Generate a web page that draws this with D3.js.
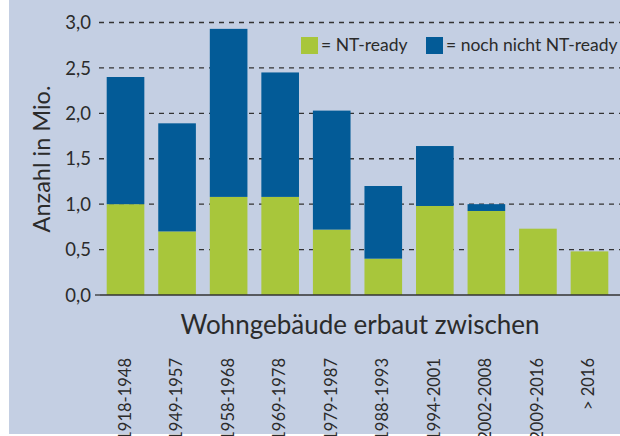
<!DOCTYPE html>
<html lang="de">
<head>
    <meta charset="UTF-8">
    <title>Wohngebäude NT-ready</title>
    <script src="https://d3js.org/d3.v7.min.js"></script>
    <style>
        body { margin: 0; background: #fff; }
        svg text { font-family: Lato, "Noto Sans", sans-serif; fill: #2b2b2b; }
        .tick-label { font-size: 18.5px; }
        .cat-label { font-size: 16.5px; }
        .x-title { font-size: 26px; }
        .y-title { font-size: 23.5px; }
        .legend-text { font-size: 17.5px; }
    </style>
</head>
<body>
    <div id="chart"></div>
    <script>
        // Data (Mio. Wohngebäude)
        const categories = ["1918-1948", "1949-1957", "1958-1968", "1969-1978", "1979-1987",
                            "1988-1993", "1994-2001", "2002-2008", "2009-2016", "> 2016"];
        const ntReady    = [1.00, 0.70, 1.08, 1.08, 0.72, 0.40, 0.98, 0.925, 0.73, 0.48];
        const notReady   = [1.40, 1.19, 1.85, 1.37, 1.31, 0.80, 0.66, 0.075, 0, 0];
        const yTicks     = [0, 0.5, 1, 1.5, 2, 2.5, 3];
        const seriesKeys = ["ready", "notReady"];
        const seriesNames = ["= NT-ready", "= noch nicht NT-ready"];
        const colors = ["#a8c63b", "#035b97"];

        const width = 620, height = 436;
        const svg = d3.select("#chart").append("svg")
            .attr("width", width)
            .attr("height", height);

        // panel background
        svg.append("rect")
            .attr("x", 9).attr("y", 0)
            .attr("width", width - 9).attr("height", 434)
            .attr("fill", "#c4cfe3");

        const x = d3.scaleBand()
            .domain(categories)
            .range([100, 615])
            .paddingInner(0.27)
            .paddingOuter(0.13);

        const y = d3.scaleLinear()
            .domain([0, 3])
            .range([295, 22.5]);

        // gridlines
        svg.append("g")
            .selectAll("line")
            .data(yTicks.filter(d => d > 0))
            .join("line")
            .attr("x1", 99).attr("x2", width)
            .attr("y1", d => y(d)).attr("y2", d => y(d))
            .attr("stroke", "#333")
            .attr("stroke-width", 1.3)
            .attr("stroke-dasharray", "5,5");

        // tick labels
        svg.append("g")
            .selectAll("text")
            .data(yTicks)
            .join("text")
            .attr("class", "tick-label")
            .attr("x", 91)
            .attr("y", d => y(d))
            .attr("dy", "0.36em")
            .attr("text-anchor", "end")
            .text(d => d3.format(".1f")(d).replace(".", ","));

        // small tick at zero
        svg.append("line")
            .attr("x1", 95).attr("x2", 100)
            .attr("y1", y(0)).attr("y2", y(0))
            .attr("stroke", "#333").attr("stroke-width", 1.3);

        // stacked bars
        const table = categories.map((c, i) => ({ cat: c, ready: ntReady[i], notReady: notReady[i] }));
        const stacked = d3.stack().keys(seriesKeys)(table);

        svg.append("g")
            .selectAll("g")
            .data(stacked)
            .join("g")
            .attr("fill", (d, i) => colors[i])
            .selectAll("rect")
            .data(d => d.filter(p => p[1] - p[0] > 0))
            .join("rect")
            .attr("x", d => x(d.data.cat))
            .attr("width", x.bandwidth())
            .attr("y", d => y(d[1]))
            .attr("height", d => y(d[0]) - y(d[1]));

        // baseline
        svg.append("line")
            .attr("x1", 100).attr("x2", width)
            .attr("y1", y(0)).attr("y2", y(0))
            .attr("stroke", "#333").attr("stroke-width", 1.6);

        // category labels (rotated, run down to the panel edge as in the print)
        svg.append("g")
            .selectAll("text")
            .data(categories)
            .join("text")
            .attr("class", "cat-label")
            .attr("text-anchor", "end")
            .attr("transform", d => `translate(${x(d) + x.bandwidth() / 2 + 5},358) rotate(-90)`)
            .text(d => d);

        // axis titles
        svg.append("text")
            .attr("class", "x-title")
            .attr("x", 360)
            .attr("y", 333.5)
            .attr("text-anchor", "middle")
            .text("Wohngebäude erbaut zwischen");

        svg.append("text")
            .attr("class", "y-title")
            .attr("transform", "translate(50,159) rotate(-90)")
            .attr("text-anchor", "middle")
            .text("Anzahl in Mio.");

        // legend
        const legendX = [301, 426];
        const legend = svg.append("g")
            .selectAll("g")
            .data(seriesNames)
            .join("g")
            .attr("transform", (d, i) => `translate(${legendX[i]},37)`);
        legend.append("rect")
            .attr("width", 17).attr("height", 17)
            .attr("fill", (d, i) => colors[i]);
        legend.append("text")
            .attr("class", "legend-text")
            .attr("x", 20)
            .attr("y", 14)
            .text(d => d);
    </script>
</body>
</html>
